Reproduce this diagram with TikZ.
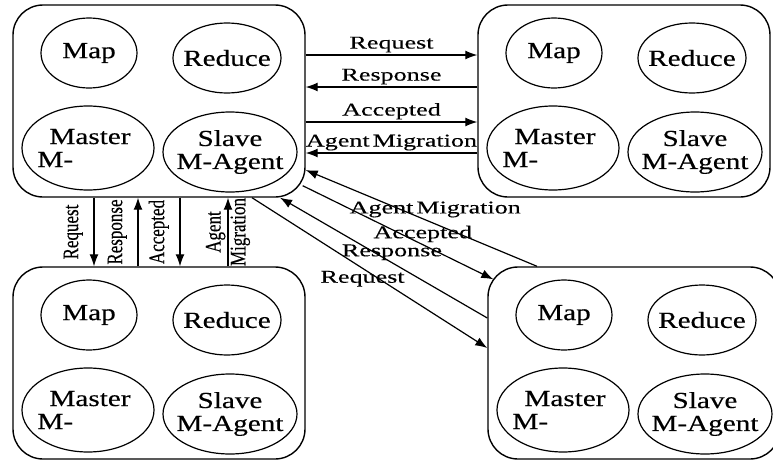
\documentclass[tikz,border=0pt]{standalone}
\usepackage{fontspec}
\setmainfont{Liberation Serif}[FakeStretch=1.27, FakeBold=0.3]
\newfontfamily\msgfont{Liberation Serif}[FakeStretch=1.45, FakeBold=0.3]
\newfontfamily\vmsgfont{Liberation Serif}[FakeBold=0.3]
\usetikzlibrary{shapes,arrows.meta,positioning,calc}

\begin{document}
\begin{tikzpicture}[x=0.5pt, y=-0.5pt, >={Latex[length=6pt,width=4.5pt]},
    unit/.style={draw, rounded corners=15pt, line width=0.7pt, minimum width=146pt, minimum height=96pt},
    task/.style={draw, ellipse, line width=0.6pt, inner sep=0pt},
    tasktext/.style={font=\fontsize{11.5}{11.5}\selectfont, inner sep=0pt},
    msg/.style={->, line width=0.6pt},
    msgtext/.style={font=\msgfont\fontsize{9}{9}\selectfont, inner sep=1pt},
    vmsgtext/.style={font=\vmsgfont\fontsize{8.5}{9.5}\selectfont, rotate=90, yscale=1.3, align=center, inner sep=0pt}]
    \clip (0,0) rectangle (773,461);

    \foreach \b/\cx/\cy in {tl/159/101, tr/624/101, bl/159/363, br/634/363} {
        \node (\b) [unit] at (\cx,\cy) {};
        \node (\b-map) [task, minimum width=48pt, minimum height=35pt] at (\cx-70,\cy-48) {};
        \node (\b-reduce) [task, minimum width=54pt, minimum height=35pt] at (\cx+68,\cy-43) {};
        \node (\b-master) [task, minimum width=66pt, minimum height=42pt] at (\cx-71,\cy+47) {};
        \node (\b-slave) [task, minimum width=67pt, minimum height=40pt] at (\cx+71,\cy+51) {};
        \node (\b-map-t) [tasktext] at (\b-map) {Map};
        \node (\b-reduce-t) [tasktext] at (\b-reduce) {Reduce};
        \node (\b-master-t) [tasktext, align=left] at ([xshift=-2pt]\b-master) {\hspace{6pt}Master\\M-};
        \node (\b-slave-t) [tasktext, align=center] at (\b-slave) {Slave\\M-Agent};
    }

    \draw [msg] ([yshift=23pt]tl.east) -- node (h-req) [msgtext, above] {Request} ([yshift=23pt]tr.west);
    \draw [msg] ([yshift=7pt]tr.west) -- node (h-resp) [msgtext, above] {Response} ([yshift=7pt]tl.east);
    \draw [msg] ([yshift=-10.5pt]tl.east) -- node (h-acc) [msgtext, above] {Accepted} ([yshift=-10.5pt]tr.west);
    \draw [msg] ([yshift=-26pt]tr.west) -- node (h-mig) [msgtext, above] {Agent\hspace{1.5pt}Migration} ([yshift=-26pt]tl.east);

    \draw [msg] ([xshift=-32.5pt]tl.south) -- node (v-req) [vmsgtext, anchor=south, inner sep=4pt] {Request} ([xshift=-32.5pt]bl.north);
    \draw [msg] ([xshift=-10.5pt]bl.north) -- node (v-resp) [vmsgtext, anchor=south, inner sep=4pt] {Response} ([xshift=-10.5pt]tl.south);
    \draw [msg] ([xshift=10.5pt]tl.south) -- node (v-acc) [vmsgtext, anchor=south, inner sep=4pt] {Accepted} ([xshift=10.5pt]bl.north);
    \draw [msg] ([xshift=34.5pt]bl.north) -- node (v-mig) [vmsgtext] {Agent\\Migration} ([xshift=34.5pt]tl.south);

    \draw [msg] ([xshift=-48.5pt]br.north) -- node (d-mig) [msgtext, pos=0.44, above=2pt] {Agent\hspace{1.5pt}Migration} ([yshift=-34.5pt]tl.east);
    \draw [msg] ([xshift=-1.5pt,yshift=6pt]tl.south east) -- node (d-acc) [msgtext, pos=0.63, above] {Accepted} ([xshift=3pt,yshift=-6.5pt]br.north west);
    \draw [msg] ([yshift=22.5pt]br.west) -- node (d-resp) [msgtext, pos=0.46, above] {Response} ([xshift=60.5pt]tl.south);
    \draw [msg] ([xshift=46.5pt]tl.south) -- node (d-req) [msgtext, pos=0.47, below] {Request} ([yshift=7.5pt]br.west);
\end{tikzpicture}
\end{document}
